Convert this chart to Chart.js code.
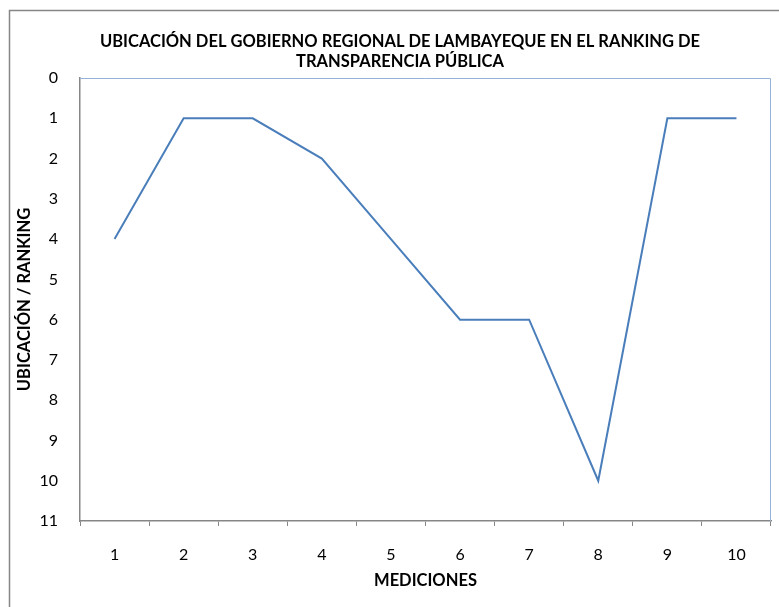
<!DOCTYPE html>
<html>
<head>
<meta charset="utf-8">
<script src="https://cdn.jsdelivr.net/npm/chart.js@4.4.1/dist/chart.umd.min.js"></script>
<style>
  html, body { margin: 0; padding: 0; background: #fff; }
  #wrap { width: 779px; height: 607px; }
</style>
</head>
<body>
<div id="wrap"><canvas id="rankChart" width="779" height="607"></canvas></div>
<script>
// data
const mediciones = ["1", "2", "3", "4", "5", "6", "7", "8", "9", "10"];
const ranking = [4, 1, 1, 2, 4, 6, 6, 10, 1, 1];
const titleLines = [
  "UBICACIÓN DEL GOBIERNO REGIONAL DE LAMBAYEQUE EN EL RANKING DE",
  "TRANSPARENCIA PÚBLICA"
];
const yTitle = "UBICACIÓN / RANKING";
const xTitle = "MEDICIONES";

const FONT = "Lato, 'Liberation Sans', sans-serif";
const AXIS_GREY = "#868686";

// frame around the chart + plot area border + the title (Excel style)
const excelFrame = {
  id: "excelFrame",
  afterDraw(chart) {
    const ctx = chart.ctx;
    const a = chart.chartArea;
    ctx.save();
    // outer chart border
    ctx.strokeStyle = AXIS_GREY;
    ctx.lineWidth = 1.5;
    ctx.beginPath();
    ctx.moveTo(9.5, 607);
    ctx.lineTo(9.5, 10.5);
    ctx.lineTo(779, 10.5);
    ctx.stroke();
    // plot area border, top + right
    ctx.strokeStyle = "#95B3D7";
    ctx.lineWidth = 1;
    ctx.beginPath();
    ctx.moveTo(a.left, a.top + 0.5);
    ctx.lineTo(a.right - 0.5, a.top + 0.5);
    ctx.lineTo(a.right - 0.5, a.bottom);
    ctx.stroke();
    // title
    ctx.fillStyle = "#000";
    ctx.font = "bold 16.5px " + FONT;
    ctx.textAlign = "center";
    ctx.textBaseline = "middle";
    ctx.fillText(titleLines[0], 400, 42);
    ctx.fillText(titleLines[1], 400, 62);
    ctx.restore();
  }
};

new Chart(document.getElementById("rankChart").getContext("2d"), {
  type: "line",
  data: {
    labels: mediciones,
    datasets: [{
      data: ranking,
      borderColor: "#4A7EBB",
      borderWidth: 2,
      pointRadius: 0,
      tension: 0,
      fill: false
    }]
  },
  options: {
    responsive: false,
    animation: false,
    layout: { padding: { left: 10, top: 78, right: 8, bottom: 0 } },
    plugins: {
      legend: { display: false },
      tooltip: { enabled: false },
      title: { display: false }
    },
    scales: {
      x: {
        offset: true,
        grid: {
          offset: true,
          drawOnChartArea: false,
          drawTicks: true,
          tickLength: 5,
          color: AXIS_GREY
        },
        border: { color: AXIS_GREY, width: 1.5 },
        ticks: { color: "#000", padding: 19, font: { family: FONT, size: 16 }, maxRotation: 0 },
        title: {
          display: true,
          text: xTitle,
          color: "#000",
          font: { family: FONT, size: 16.5, weight: "bold" },
          padding: { top: 0, bottom: 16 }
        },
        afterFit(axis) { axis.height = 86; }
      },
      y: {
        reverse: true,
        min: 0,
        max: 11,
        grid: { display: true, drawOnChartArea: false, drawTicks: false },
        border: { color: AXIS_GREY, width: 1.5 },
        ticks: { stepSize: 1, color: "#000", padding: 22, font: { family: FONT, size: 16 } },
        title: {
          display: true,
          text: yTitle,
          color: "#000",
          font: { family: FONT, size: 16.5, weight: "bold" },
          padding: { top: 5, bottom: 0 }
        },
        afterFit(axis) { axis.width = 70; }
      }
    }
  },
  plugins: [excelFrame]
});
</script>
</body>
</html>
